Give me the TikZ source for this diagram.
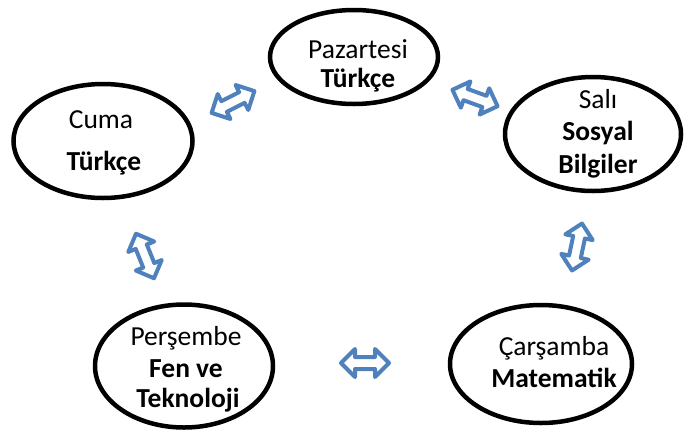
\documentclass[tikz,border=0pt]{standalone}
\usepackage{fontspec}
\setmainfont{Carlito}
\usetikzlibrary{shapes.geometric,shapes.arrows}
\definecolor{arrowblue}{HTML}{4F81BD}
\begin{document}
\begin{tikzpicture}[x=1pt,y=-1pt,
  day/.style={ellipse,draw=black,line width=4.5pt,inner sep=0pt},
  txt/.style={anchor=base,inner sep=0pt,font=\fontsize{27.5}{30}\selectfont},
  btxt/.style={txt,font=\fontsize{27.5}{30}\selectfont\bfseries},
  darr/.style={double arrow,draw=arrowblue,line width=4pt,line join=round,fill=white,
    minimum height=48pt,inner xsep=0pt,inner ysep=4pt,double arrow head extend=8pt}]
\useasboundingbox (0,0) rectangle (685,432);
% ellipses
\node[day,minimum width=168pt,minimum height=94pt] (paz) at (354,57) {};
\node[day,minimum width=176pt,minimum height=114pt] (sal) at (593,134) {};
\node[day,minimum width=179pt,minimum height=114pt] (cum) at (103,141) {};
\node[day,minimum width=178pt,minimum height=123pt] (per) at (184,366) {};
\node[day,minimum width=182pt,minimum height=118pt] (car) at (541,364) {};
% texts
\node[txt]  (paz1) at (358,58) {Pazartesi};
\node[btxt] (paz2) at (358,87) {Türkçe};
\node[txt]  (sal1) at (598,108) {Salı};
\node[btxt] (sal2) at (598,140) {Sosyal};
\node[btxt] (sal3) at (598,173) {Bilgiler};
\node[txt]  (cum1) at (101,128) {Cuma};
\node[btxt] (cum2) at (104,170) {Türkçe};
\node[txt]  (per1) at (186,345) {Perşembe};
\node[btxt] (per2) at (186,377) {Fen ve};
\node[btxt] (per3) at (188,407) {Teknoloji};
\node[txt]  (car1) at (554,355) {Çarşamba};
\node[btxt] (car2) at (554,387) {Matematik};
% arrows
\node[darr,rotate=27] (a1) at (233,102) {};
\node[darr,rotate=-20] (a2) at (475,98) {};
\node[darr,rotate=78] (a3) at (577,247) {};
\node[darr,rotate=0] (a4) at (365,363) {};
\node[darr,rotate=112] (a5) at (145,256) {};
\end{tikzpicture}
\end{document}
